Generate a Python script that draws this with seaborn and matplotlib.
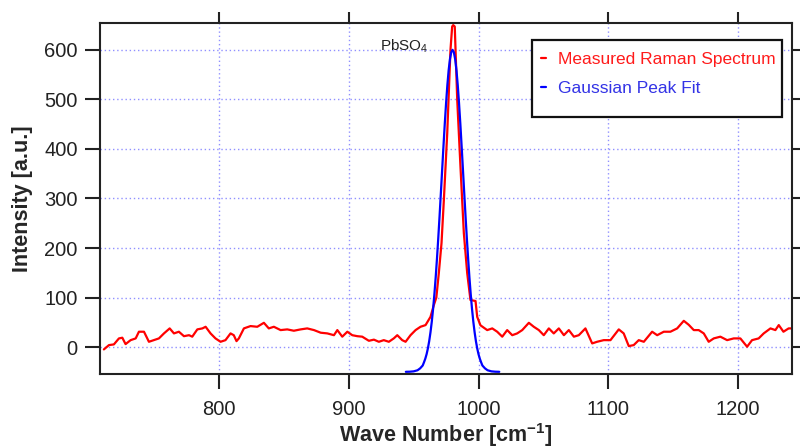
import matplotlib
matplotlib.use("Agg")
import matplotlib.pyplot as plt
from matplotlib.patches import Rectangle
import pandas as pd
import seaborn as sns

# Measured Raman spectrum
raman_x = [711.3, 715.2, 719.0, 722.9, 725.5, 728.0, 731.9, 735.8, 738.3, 742.2,
           746.0, 749.8, 753.7, 757.6, 762.0, 765.3, 769.1, 773.0, 776.9, 779.4,
           783.3, 787.2, 789.7, 793.5, 797.3, 801.2, 805.0, 808.9, 811.4, 813.5,
           815.3, 819.2, 824.3, 829.5, 834.6, 838.4, 842.3, 847.5, 852.6, 857.7,
           862.9, 868.0, 873.2, 878.4, 883.5, 888.6, 891.2, 895.0, 898.9, 902.7,
           906.6, 910.4, 915.5, 919.4, 923.2, 927.0, 930.9, 934.7, 937.4, 941.2,
           943.8, 947.6, 951.5, 955.3, 959.2, 963.0, 965.6, 967.5, 969.4, 971.5,
           973.3, 975.9, 978.4, 979.7, 980.5, 981.7, 983.6, 986.1, 988.7, 991.3,
           993.8, 997.7, 999.0, 1001.5, 1006.7, 1010.6, 1014.4, 1018.3, 1022.1, 1026.0,
           1029.8, 1033.7, 1038.8, 1042.6, 1046.5, 1050.3, 1054.2, 1058.0, 1061.9, 1065.8,
           1069.6, 1073.5, 1077.3, 1082.4, 1087.6, 1091.4, 1096.5, 1101.7, 1108.1, 1111.9,
           1115.8, 1119.6, 1123.5, 1127.4, 1133.8, 1137.7, 1142.8, 1147.9, 1153.1, 1158.2,
           1162.0, 1165.9, 1169.7, 1173.6, 1177.4, 1181.3, 1186.4, 1191.6, 1196.7, 1201.8,
           1207.0, 1210.8, 1215.9, 1219.8, 1225.0, 1228.8, 1231.4, 1235.0, 1239.0, 1241.6]
raman_y = [-4.7, 4.0, 5.4, 17.5, 18.9, 6.0, 14.0, 17.5, 31.0, 31.0,
           10.7, 14.0, 17.5, 27.6, 37.7, 27.6, 31.0, 22.0, 24.0, 21.0,
           35.7, 37.7, 41.0, 27.6, 17.5, 10.7, 14.0, 27.6, 24.0, 12.0,
           17.5, 37.7, 42.4, 41.0, 49.0, 37.7, 41.0, 34.3, 35.7, 33.0,
           35.7, 37.7, 34.3, 29.0, 27.6, 24.0, 34.3, 21.0, 31.0, 24.0,
           22.0, 21.0, 12.7, 15.0, 10.7, 14.0, 10.7, 17.5, 24.0, 14.0,
           10.7, 24.0, 34.3, 41.0, 44.4, 61.0, 85.0, 100.0, 149.0, 210.0,
           297.0, 432.0, 600.0, 647.0, 650.0, 647.0, 499.0, 364.0, 230.0, 149.0,
           95.0, 93.0, 61.0, 44.0, 34.3, 37.7, 31.0, 21.0, 34.3, 24.0,
           27.6, 34.3, 49.0, 41.0, 34.3, 24.0, 37.7, 27.6, 37.7, 24.0,
           34.3, 21.0, 24.0, 37.7, 7.4, 10.7, 14.0, 14.0, 35.7, 27.6,
           2.0, 4.0, 14.0, 10.7, 31.0, 24.0, 31.0, 31.0, 37.7, 53.0,
           45.0, 34.3, 34.3, 27.6, 10.7, 17.5, 21.0, 14.0, 17.5, 17.5,
           0.7, 14.0, 17.5, 27.6, 37.7, 34.3, 44.4, 31.0, 37.7, 37.7]

# Gaussian peak fit
fit_x = [944, 947, 950, 953, 955, 957, 958, 959, 960, 961, 962, 963, 964, 965, 966,
         967, 968, 969, 970, 971, 972, 973, 974, 975, 976, 977, 978, 979, 980,
         981, 982, 983, 984, 985, 986, 987, 988, 989, 990, 991, 992, 993, 994,
         995, 996, 997, 998, 999, 1000, 1001, 1002, 1003, 1005, 1007, 1010, 1013, 1016]
fit_y = [-49.9, -49.7, -49.0, -46.8, -43.0, -37.2, -30.6, -23.4, -14.3, -2.6, 12.0,
         30.0, 51.4, 77.0, 106.8, 140.6, 178.7, 220.3, 264.6, 311.2, 358.5, 405.3,
         450.6, 492.0, 528.8, 559.0, 581.4, 595.2, 600.0,
         595.2, 581.4, 559.0, 528.8, 492.0, 450.6, 405.3, 358.5, 311.2, 264.6,
         220.3, 178.7, 140.6, 106.8, 77.0, 51.4, 30.0, 12.0, -2.6, -14.3,
         -23.4, -30.6, -37.2, -43.0, -46.8, -49.0, -49.7, -49.9]

x_ticks = [800, 900, 1000, 1100, 1200]
y_ticks = [0, 100, 200, 300, 400, 500, 600]

sns.set_style("ticks")
plt.rcParams['font.family'] = ['Liberation Sans', 'DejaVu Sans']
plt.rcParams['mathtext.fontset'] = 'custom'
plt.rcParams['mathtext.rm'] = 'Liberation Sans'
plt.rcParams['mathtext.bf'] = 'Liberation Sans:bold'

raman = pd.DataFrame({"x": raman_x, "y": raman_y})
fit = pd.DataFrame({"x": fit_x, "y": fit_y})

fig = plt.figure(figsize=(8, 4.48), dpi=100)
ax = fig.add_axes([0.125, 0.165, 0.865, 0.784])

sns.lineplot(data=raman, x="x", y="y", color="#ff0000", linewidth=1.6,
             label="Measured Raman Spectrum", ax=ax, sort=False)
sns.lineplot(data=fit, x="x", y="y", color="#0000ff", linewidth=1.6,
             label="Gaussian Peak Fit", ax=ax, sort=False)

ax.set_xlim(708.3, 1241.6)
ax.set_ylim(-54.5, 654.5)
ax.set_xticks(x_ticks)
ax.set_yticks(y_ticks)
ax.grid(True, color="#9090ff", linestyle=(0, (1, 2)), linewidth=1)

for side in ["left", "right", "top", "bottom"]:
    ax.spines[side].set_linewidth(1.5)
    ax.spines[side].set_color("#222222")
ax.tick_params(axis="both", direction="out", length=11, width=1.5,
               color="#222222", labelsize=14.5, labelcolor="#222222",
               top=True, right=True, labeltop=False, labelright=False)
ax.tick_params(axis="x", pad=8)
ax.tick_params(axis="y", pad=5)
for t in ax.xaxis.get_major_ticks() + ax.yaxis.get_major_ticks():
    t.tick2line.set_markersize(8)

ax.set_xlabel(r"Wave Number [cm$^{\mathbf{-1}}$]", fontsize=15.5, fontweight="bold",
              labelpad=1)
ax.set_ylabel("Intensity [a.u.]", fontsize=15.5, fontweight="bold", labelpad=8)

ax.text(943, 607, r"PbSO$_4$", fontsize=11, ha="center", va="center",
        color="#222222")

# legend box drawn separately so its padding matches the reference
ax.add_patch(Rectangle((0.6243, 0.7322), 0.3612, 0.2194, transform=ax.transAxes,
                       facecolor="white", edgecolor="#111111", linewidth=1.6,
                       zorder=4))
leg = ax.legend(loc="upper left", bbox_to_anchor=(0.6243, 0.943), frameon=False,
                fontsize=12.5, handlelength=0.3, handletextpad=0.7,
                borderpad=0.5, labelspacing=0.8, borderaxespad=0)
leg.set_zorder(5)
for txt, c in zip(leg.get_texts(), ["#ff1a1a", "#3333e6"]):
    txt.set_color(c)

plt.savefig("out.png", dpi=100)
